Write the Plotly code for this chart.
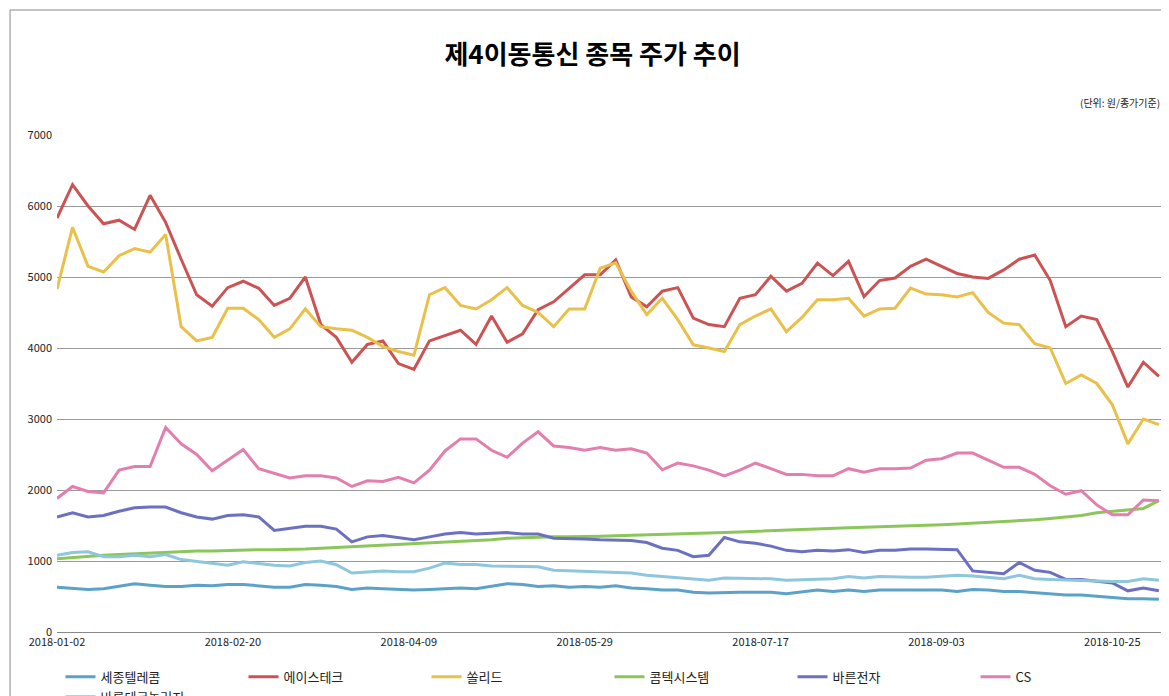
import plotly.graph_objects as go

# trading-day index (every 3rd trading day), tick labels on the category axis
day_idx = list(range(0, 214, 3))
tick_pos = [0, 34, 68, 102, 136, 170, 204]
tick_labels = ["2018-01-02", "2018-02-20", "2018-04-09", "2018-05-29", "2018-07-17", "2018-09-03", "2018-10-25"]

sejong = [630, 610, 600, 610, 640, 680, 660, 640, 640, 660, 650, 670, 670, 650, 630, 630, 670,
          660, 640, 600, 620, 610, 600, 590, 600, 610, 620, 610, 650, 680, 670, 640, 650, 630, 640,
          630, 650, 620, 610, 590, 590, 560, 550, 560, 560, 560, 560, 540, 560, 590, 570, 590, 570, 590,
          590, 590, 580, 590, 570, 600, 590, 570, 570, 550, 530, 520, 520, 500, 480, 470, 470, 460]
acetech = [5830, 6300, 6000, 5750, 5800, 5670, 6150, 5770, 5250, 4750, 4590, 4850, 4940, 4840, 4600, 4700, 5000,
           4330, 4150, 3800, 4050, 4100, 3780, 3700, 4100, 4180, 4250, 4050, 4450, 4080, 4200, 4540, 4650, 4840, 5030,
           5030, 5240, 4720, 4580, 4800, 4850, 4420, 4330, 4300, 4700, 4750, 5010, 4800, 4910, 5195, 5020, 5220, 4725, 4950,
           4985, 5150, 5250, 5150, 5050, 5000, 4980, 5100, 5250, 5310, 4950, 4300, 4450, 4400, 3950, 3450, 3800, 3600]
solid = [4830, 5700, 5150, 5070, 5300, 5400, 5350, 5600, 4300, 4100, 4150, 4560, 4560, 4400, 4150, 4270, 4550,
         4300, 4270, 4250, 4150, 4020, 3950, 3900, 4750, 4850, 4600, 4550, 4680, 4850, 4600, 4500, 4300, 4550, 4550,
         5125, 5200, 4800, 4470, 4700, 4400, 4045, 4000, 3950, 4330, 4450, 4550, 4230, 4430, 4680, 4680, 4700, 4450, 4550,
         4560, 4843, 4760, 4750, 4720, 4780, 4500, 4350, 4330, 4060, 4000, 3500, 3620, 3500, 3200, 2650, 3000, 2920]
comtec = [1030, 1050, 1060, 1080, 1090, 1100, 1120, 1130, 1130, 1140, 1140, 1150, 1150, 1160, 1160, 1160, 1170,
          1180, 1190, 1200, 1210, 1220, 1230, 1240, 1250, 1260, 1270, 1290, 1300, 1320, 1330, 1330, 1340, 1340, 1350,
          1350, 1355, 1360, 1365, 1370, 1380, 1385, 1390, 1400, 1410, 1420, 1430, 1440, 1450, 1455, 1460, 1470, 1475, 1480,
          1490, 1500, 1505, 1510, 1520, 1530, 1540, 1550, 1560, 1580, 1600, 1620, 1640, 1680, 1700, 1720, 1740, 1850]
barun_elec = [1620, 1680, 1620, 1640, 1700, 1750, 1760, 1760, 1680, 1620, 1590, 1640, 1650, 1620, 1430, 1460, 1490,
              1490, 1450, 1270, 1340, 1360, 1330, 1300, 1340, 1380, 1400, 1380, 1390, 1400, 1380, 1380, 1320, 1320, 1310,
              1300, 1290, 1290, 1260, 1180, 1150, 1060, 1080, 1330, 1270, 1250, 1210, 1150, 1130, 1150, 1140, 1160, 1120, 1150,
              1150, 1170, 1170, 1170, 1160, 860, 840, 820, 980, 870, 840, 740, 740, 720, 690, 580, 620, 580]
cs = [1880, 2050, 1980, 1960, 2280, 2330, 2330, 2880, 2650, 2500, 2270, 2420, 2570, 2300, 2230, 2170, 2200,
      2200, 2170, 2050, 2130, 2120, 2180, 2100, 2280, 2550, 2720, 2720, 2560, 2460, 2660, 2820, 2620, 2600, 2560,
      2600, 2560, 2580, 2520, 2285, 2380, 2340, 2280, 2200, 2280, 2380, 2300, 2220, 2220, 2200, 2200, 2300, 2250, 2300,
      2300, 2310, 2420, 2440, 2520, 2520, 2420, 2320, 2320, 2220, 2060, 1940, 1990, 1790, 1650, 1650, 1860, 1850]
barun_tech = [1080, 1120, 1130, 1060, 1060, 1080, 1060, 1090, 1020, 990, 960, 940, 990, 960, 940, 930, 980,
              1000, 948, 830, 840, 860, 850, 850, 900, 970, 950, 950, 930, 930, 930, 920, 870, 860, 850,
              850, 830, 830, 800, 780, 760, 740, 730, 760, 760, 760, 750, 730, 740, 740, 750, 780, 760, 780,
              770, 770, 770, 780, 800, 790, 770, 750, 800, 750, 740, 730, 730, 720, 710, 710, 750, 730]

series = [
    ("세종텔레콤", sejong, "#5aa2c8"),
    ("에이스테크", acetech, "#cc5353"),
    ("쏠리드", solid, "#e8c04a"),
    ("콤텍시스템", comtec, "#8cc65a"),
    ("바른전자", barun_elec, "#6b70c0"),
    ("CS", cs, "#e37fae"),
    ("바른테크놀러지", barun_tech, "#8ec6de"),
]

fig = go.Figure()
for name, vals, color in series:
    fig.add_trace(go.Scatter(x=day_idx, y=vals, name=name, mode="lines",
                             line=dict(color=color, width=3)))

fig.update_layout(
    width=1169, height=696,
    margin=dict(l=49, r=15, t=127, b=72, autoexpand=False),
    paper_bgcolor="white", plot_bgcolor="white",
    font=dict(family="Noto Sans CJK KR", size=11, color="#222"),
    title=dict(text="<b>제4이동통신 종목 주가 추이</b>", x=0.5, xanchor="center",
               y=0.945, font=dict(size=26, color="black")),
    legend=dict(orientation="h", x=0.5, xanchor="center", y=-0.06, yanchor="top",
                font=dict(size=13), entrywidth=138, traceorder="normal"),
    showlegend=True,
)
fig.update_xaxes(range=[0, 213.6], tickvals=tick_pos, ticktext=tick_labels,
                 showgrid=False, showline=True, linecolor="#888", ticks="",
                 tickfont=dict(size=11), zeroline=False, automargin=False)
fig.update_yaxes(range=[0, 7000], dtick=1000, showgrid=True, gridcolor="#999",
                 zeroline=False, showline=False, tickfont=dict(size=11), ticks="",
                 ticklabelstandoff=4, automargin=False)
fig.add_annotation(text="(단위: 원/종가기준)", xref="paper", yref="paper", x=1.0, y=1.065,
                   xanchor="right", yanchor="middle", showarrow=False, font=dict(size=10))
fig.add_shape(type="rect", xref="paper", yref="paper", x0=-0.0425, x1=1.0118, y0=-0.1408, y1=1.2515,
              line=dict(color="#888", width=1))

fig.write_html("out.html")
